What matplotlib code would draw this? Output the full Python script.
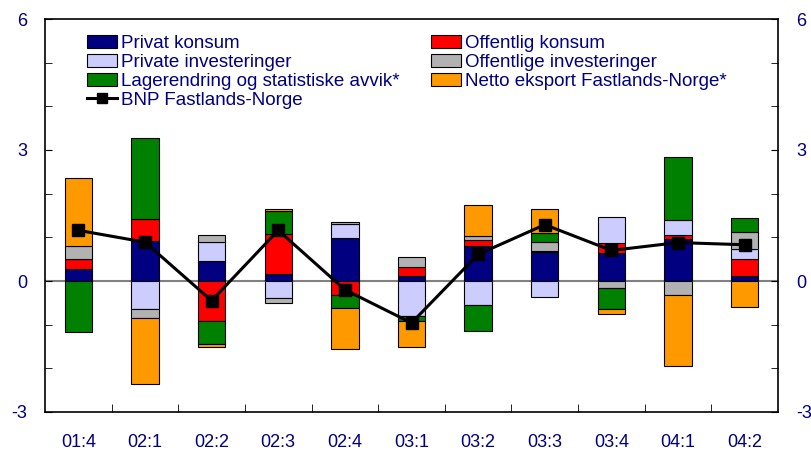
import matplotlib
matplotlib.use('Agg')
import matplotlib.pyplot as plt
from matplotlib.patches import Patch
from matplotlib.lines import Line2D
import numpy as np

plt.rcParams['font.family'] = ['Liberation Sans', 'DejaVu Sans']
plt.rcParams['axes.unicode_minus'] = False

quarters = ['01:4', '02:1', '02:2', '02:3', '02:4', '03:1', '03:2', '03:3', '03:4', '04:1', '04:2']

privat_konsum = [0.27, 0.92, 0.45, 0.15, 0.99, 0.11, 0.81, 0.67, 0.63, 0.97, 0.11]
offentlig_konsum = [0.23, 0.51, -0.92, 0.93, -0.31, 0.22, 0.12, 0.02, 0.25, 0.09, 0.39]
private_inv = [0.0, -0.64, 0.45, -0.39, 0.32, -0.81, -0.55, -0.37, 0.58, 0.33, 0.23]
offentlige_inv = [0.31, -0.21, 0.16, -0.12, 0.04, 0.23, 0.09, 0.21, -0.17, -0.31, 0.39]
lager = [-1.17, 1.84, -0.53, 0.53, -0.31, -0.11, -0.60, 0.20, -0.47, 1.44, 0.32]
netto_eksport = [1.54, -1.51, -0.06, 0.05, -0.93, -0.60, 0.72, 0.56, -0.11, -1.64, -0.60]
bnp = [1.16, 0.89, -0.45, 1.16, -0.20, -0.96, 0.61, 1.29, 0.70, 0.88, 0.83]

series = [
    ('Privat konsum', privat_konsum, '#000080'),
    ('Offentlig konsum', offentlig_konsum, '#ff0000'),
    ('Private investeringer', private_inv, '#ccccff'),
    ('Offentlige investeringer', offentlige_inv, '#b2b2b2'),
    ('Lagerendring og statistiske avvik*', lager, '#008000'),
    ('Netto eksport Fastlands-Norge*', netto_eksport, '#ff9900'),
]

txt = '#000080'
x = np.arange(len(quarters))

fig = plt.figure(figsize=(8.11, 4.5), dpi=100, facecolor='w')
ax = fig.add_axes([45 / 811, 38 / 450, 733 / 811, 393 / 450])

ax.axhline(0, color='#808080', lw=1.5, zorder=1)

# stack positives upward and negatives downward
pos_base = np.zeros(len(x))
neg_base = np.zeros(len(x))
for name, vals, col in series:
    v = np.array(vals)
    base = np.where(v >= 0, pos_base, neg_base)
    ax.bar(x, v, 0.41, bottom=base, color=col, edgecolor='black', lw=0.8, zorder=2)
    pos_base += np.where(v >= 0, v, 0)
    neg_base += np.where(v < 0, v, 0)

ax.plot(x, bnp, color='black', lw=2.2, marker='s', ms=8.5, zorder=3)

ax.set_xlim(-0.5, len(x) - 0.5)
ax.set_ylim(-3, 6)
ax.set_yticks([-3, 0, 3, 6])
ax.set_yticks(np.arange(-3, 7, 1), minor=True)
ax.set_xticks(x)
ax.set_xticklabels(quarters)
ax.set_xticks(np.arange(0.5, len(x) - 0.5, 1), minor=True)

ax.tick_params(axis='y', which='both', direction='in', length=5, left=True, right=True,
               labelleft=True, labelright=True, labelsize=13, labelcolor=txt, pad=13)
ax.tick_params(axis='x', which='major', length=0, labelsize=13, labelcolor=txt, pad=16)
ax.tick_params(axis='x', which='minor', direction='in', length=6)
for s in ax.spines.values():
    s.set_linewidth(1.2)

handles = [
    Patch(facecolor='#000080', edgecolor='black', lw=0.8),
    Patch(facecolor='#ccccff', edgecolor='black', lw=0.8),
    Patch(facecolor='#008000', edgecolor='black', lw=0.8),
    Line2D([], [], color='black', lw=2.2, marker='s', ms=7),
    Patch(facecolor='#ff0000', edgecolor='black', lw=0.8),
    Patch(facecolor='#b2b2b2', edgecolor='black', lw=0.8),
    Patch(facecolor='#ff9900', edgecolor='black', lw=0.8),
]
labels = ['Privat konsum', 'Private investeringer', 'Lagerendring og statistiske avvik*',
          'BNP Fastlands-Norge', 'Offentlig konsum', 'Offentlige investeringer',
          'Netto eksport Fastlands-Norge*']
leg = ax.legend(handles, labels, ncol=2, loc='upper left', bbox_to_anchor=(0.057, 0.96),
                frameon=False, fontsize=13.5, handlelength=1.6, handleheight=0.75,
                handletextpad=0.2, labelspacing=0.08, columnspacing=1.7, borderpad=0,
                borderaxespad=0)
for t in leg.get_texts():
    t.set_color(txt)

fig.savefig('out.png', dpi=100)
